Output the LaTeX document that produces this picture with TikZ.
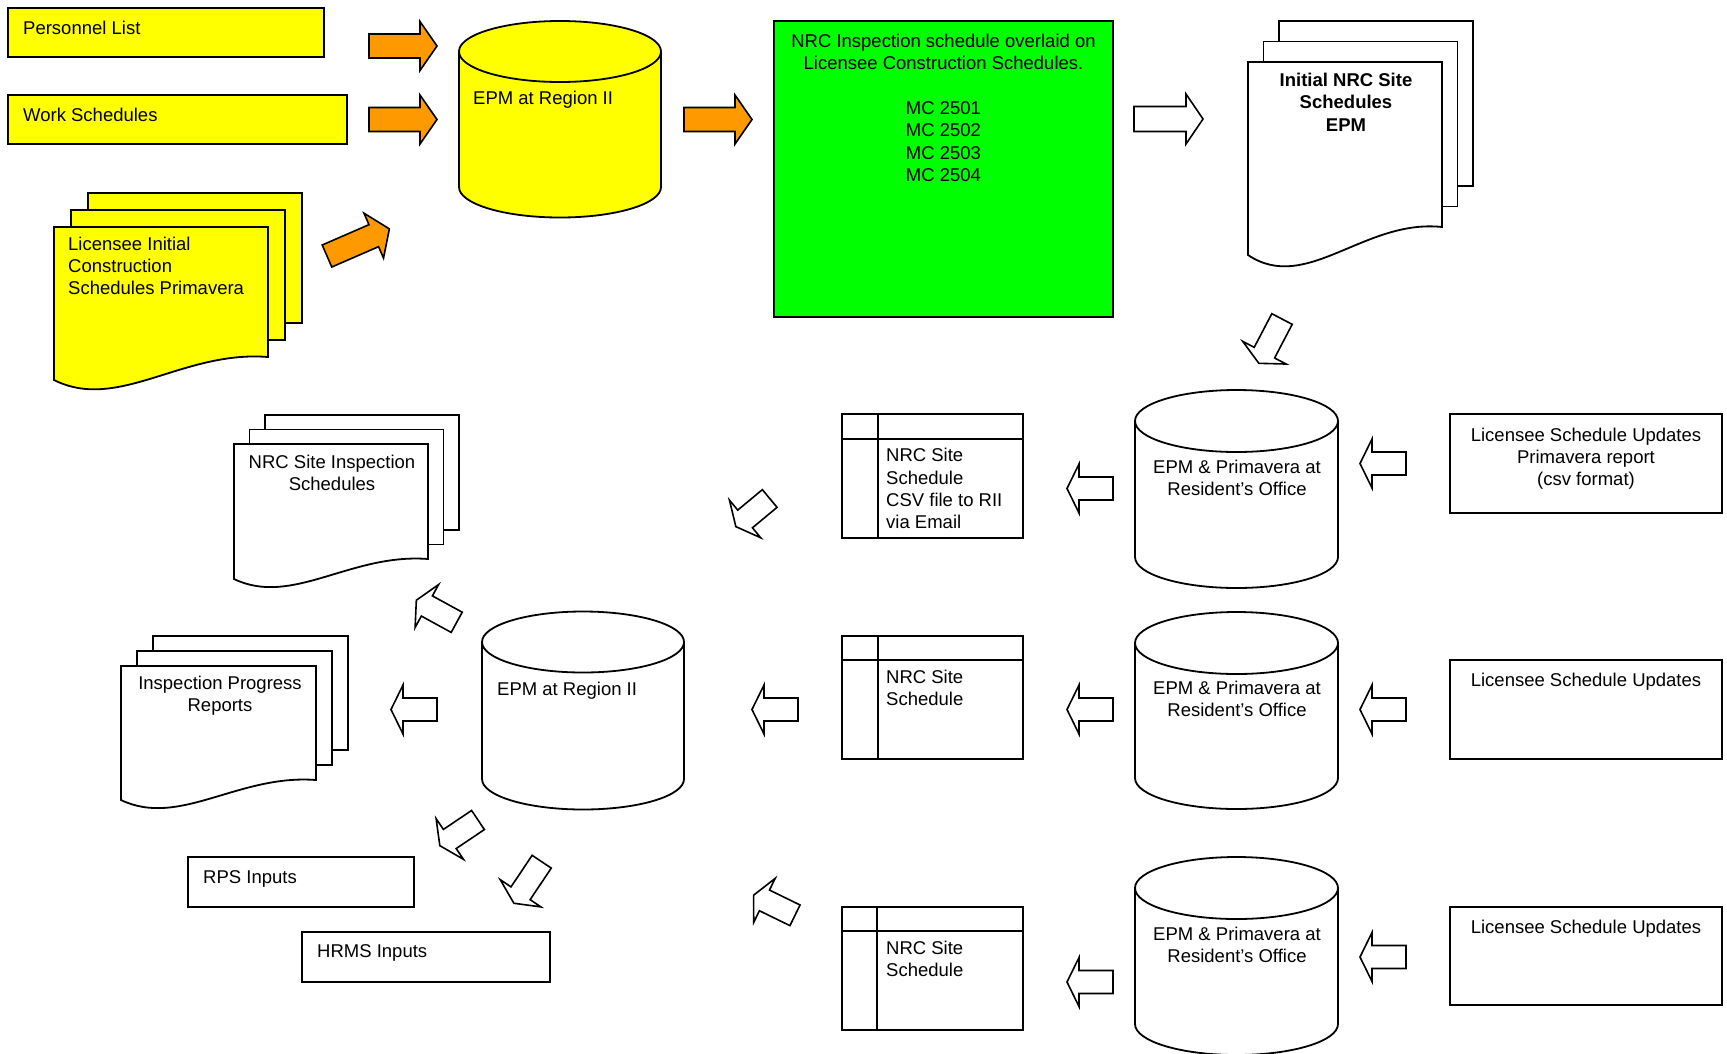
\documentclass[tikz,border=0pt]{standalone}
\usepackage{fontspec}
\setmainfont{Liberation Sans}
\definecolor{ylw}{HTML}{FFFF00}
\definecolor{org}{HTML}{FF9900}
\definecolor{grn}{HTML}{00FF00}
\tikzset{
  txt/.style={inner sep=0pt, font=\fontsize{18.5}{22.4}\selectfont},
  shp/.style={line width=1.8pt, line join=miter},
}
% block arrow: tail-centre x, y, angle, length, head length, shaft half, head half, fill
\newcommand\blockarrow[8]{%
  \begin{scope}[shift={(#1,#2)},rotate=#3]
    \filldraw[shp, line width=1.6pt, fill=#8] (0,-#6) -- ({#4-#5},-#6) -- ({#4-#5},-#7) -- (#4,0) -- ({#4-#5},#7) -- ({#4-#5},#6) -- (0,#6) -- cycle;
  \end{scope}}
\newcommand\bigarrow[4]{\blockarrow{#1}{#2}{#3}{68}{17}{12}{24.5}{#4}}
\newcommand\smallarrow[4]{\blockarrow{#1}{#2}{#3}{#4}{12}{11.5}{24.5}{white}}
% cylinder: cx, top-centre y, bottom-centre y, rx, ry, fill, name
\newcommand\cyl[7]{%
  \filldraw[shp, fill=#6] ({#1-#4},#2) -- ({#1-#4},#3) .. controls ({#1-#4},{#3+0.5523*#5}) and ({#1-0.5523*#4},{#3+#5}) .. (#1,{#3+#5}) .. controls ({#1+0.5523*#4},{#3+#5}) and ({#1+#4},{#3+0.5523*#5}) .. ({#1+#4},#3) -- ({#1+#4},#2) -- cycle;
  \filldraw[shp, fill=#6] (#1,#2) ellipse [x radius=#4pt, y radius=#5pt];
  \coordinate (#7) at (#1,{(#2+#3)/2});}
% document stack: front x0, y0, w, h, dx, dy, wave scale, fill, name
\newcommand\docstack[9]{%
  \filldraw[shp, fill=#8] ({#1+2*#5},{#2-2*#6}) rectangle ++(#3,#4);
  \filldraw[shp, fill=#8] ({#1+#5},{#2-#6}) rectangle ++(#3,#4);
  \filldraw[shp, fill=#8] (#1,#2) -- ({#1+#3},#2) -- ({#1+#3},{#2+#4}) .. controls ({#1+0.6*#3},{#2+#4-6*#7}) and ({#1+0.3*#3},{#2+#4+48*#7}) .. (#1,{#2+#4+20*#7}) -- cycle;
  \coordinate (#9) at ({#1+0.5*#3},{#2+0.5*#4});}
% table box: x1 y1 x2 y2 header-y vline-x name
\newcommand\tablebox[7]{%
  \draw[shp] (#1,#2) rectangle (#3,#4);
  \draw[shp] (#1,#5) -- (#3,#5);
  \draw[shp] (#6,#2) -- (#6,#4);
  \coordinate (#7) at ({(#1+#3)/2},{(#2+#4)/2});}
\begin{document}
\begin{tikzpicture}[x=1pt,y=-1pt]
\useasboundingbox (0,0) rectangle (1727,1053);

% ---------- top row ----------
\draw[shp, fill=ylw] (8,8) rectangle (324,57);
\node[txt, anchor=base west] (tPers) at (23,34) {Personnel List};
\draw[shp, fill=ylw] (8,95) rectangle (347,144);
\node[txt, anchor=base west] (tWork) at (23,121) {Work Schedules};

\docstack{54}{227}{214}{130}{17}{17}{1.15}{ylw}{licdoc}
\node[txt, anchor=base west, align=left] (tLic) at (68,294.8) {Licensee Initial\\Construction\\Schedules Primavera};

\bigarrow{369}{46}{0}{org}
\bigarrow{369}{119.5}{0}{org}
\bigarrow{327}{256}{23.5}{org}

\cyl{560}{51.5}{187}{101}{30.5}{ylw}{epmtop}
\node[txt, anchor=base west] (tEPM1) at (473,104) {EPM at Region II};

\bigarrow{684}{119.5}{0}{org}

\draw[shp, fill=grn] (774,21) rectangle (1113,317);
\node[txt, anchor=base, align=center] (tGreen) at (943.5,181.4) {NRC Inspection schedule overlaid on\\Licensee Construction Schedules.\\~\\MC 2501\\MC 2502\\MC 2503\\MC 2504};

\blockarrow{1134}{119}{0}{69}{17}{12.5}{25}{white}

\docstack{1248}{62}{194}{165}{15.5}{20.5}{1.4}{white}{initdoc}
\node[txt, anchor=base, align=center, font=\fontsize{18.5}{22.4}\selectfont\bfseries] (tInit) at (1346,131.3) {Initial NRC Site\\Schedules\\EPM};

\smallarrow{1282}{319}{242.4}{50}

% ---------- row 1 ----------
\blockarrow{1406}{463.5}{180}{46}{12}{11.5}{24.5}{white}
\draw[shp] (1450,414) rectangle (1722,513);
\node[txt, anchor=base, align=center] (tLSU1) at (1586,485.8) {Licensee Schedule Updates\\Primavera report\\(csv format)};

\cyl{1236.5}{421}{557}{101.5}{31}{white}{res1}
\node[txt, anchor=base, align=center] (tRes1) at (1237,495.7) {EPM \& Primavera at\\Resident’s Office};

\smallarrow{1113}{488.5}{180}{46}
\tablebox{842}{414}{1023}{538}{439}{878}{tab1}
\node[txt, anchor=base west, align=left] (tTab1) at (886,528.9) {NRC Site\\Schedule\\CSV file to RII\\via Email};

\smallarrow{769.7}{498.5}{219.7}{44}

\docstack{234}{444}{194}{115}{15.5}{14.5}{1}{white}{nsisdoc}
\node[txt, anchor=base, align=center] (tNSIS) at (332,490.4) {NRC Site Inspection\\Schedules};

% ---------- row 2 ----------
\blockarrow{1406}{709.5}{180}{46}{12}{11.5}{24.5}{white}
\draw[shp] (1450,660) rectangle (1722,759);
\node[txt, anchor=base, align=center] (tLSU2) at (1586,686) {Licensee Schedule Updates};

\cyl{1236.5}{643}{778}{101.5}{31}{white}{res2}
\node[txt, anchor=base, align=center] (tRes2) at (1237,716.9) {EPM \& Primavera at\\Resident’s Office};

\smallarrow{1113}{709.5}{180}{46}
\tablebox{842}{636}{1023}{759}{660}{878}{tab2}
\node[txt, anchor=base west, align=left] (tTab2) at (886,705.7) {NRC Site\\Schedule};

\smallarrow{798}{709.5}{180}{46}

\cyl{583}{642}{779}{101}{30.5}{white}{epmlow}
\node[txt, anchor=base west] (tEPM2) at (497,695) {EPM at Region II};

\smallarrow{437}{709.5}{180}{46}
\docstack{121}{666}{195}{114}{16}{15}{1}{white}{iprdoc}
\node[txt, anchor=base, align=center] (tIPR) at (220,711.4) {Inspection Progress\\Reports};

\smallarrow{456.7}{622.3}{151.3}{46}
\smallarrow{478}{820}{213.9}{46}
\smallarrow{541.7}{861.7}{236.2}{50}

\draw[shp] (188,857) rectangle (414,907);
\node[txt, anchor=base west] (tRPS) at (203,883) {RPS Inputs};
\draw[shp] (302,932) rectangle (550,982);
\node[txt, anchor=base west] (tHRMS) at (317,957) {HRMS Inputs};

% ---------- row 3 ----------
\blockarrow{1406}{957}{180}{46}{12}{11.5}{24.5}{white}
\draw[shp] (1450,907) rectangle (1722,1005);
\node[txt, anchor=base, align=center] (tLSU3) at (1586,933) {Licensee Schedule Updates};

\cyl{1236.5}{888}{1024}{101.5}{31}{white}{res3}
\node[txt, anchor=base, align=center] (tRes3) at (1237,962.4) {EPM \& Primavera at\\Resident’s Office};

\smallarrow{1113}{982}{180}{46}
\tablebox{842}{907}{1023}{1030}{931}{877}{tab3}
\node[txt, anchor=base west, align=left] (tTab3) at (886,976.9) {NRC Site\\Schedule};

\smallarrow{795}{915.3}{154}{46}
\end{tikzpicture}
\end{document}
